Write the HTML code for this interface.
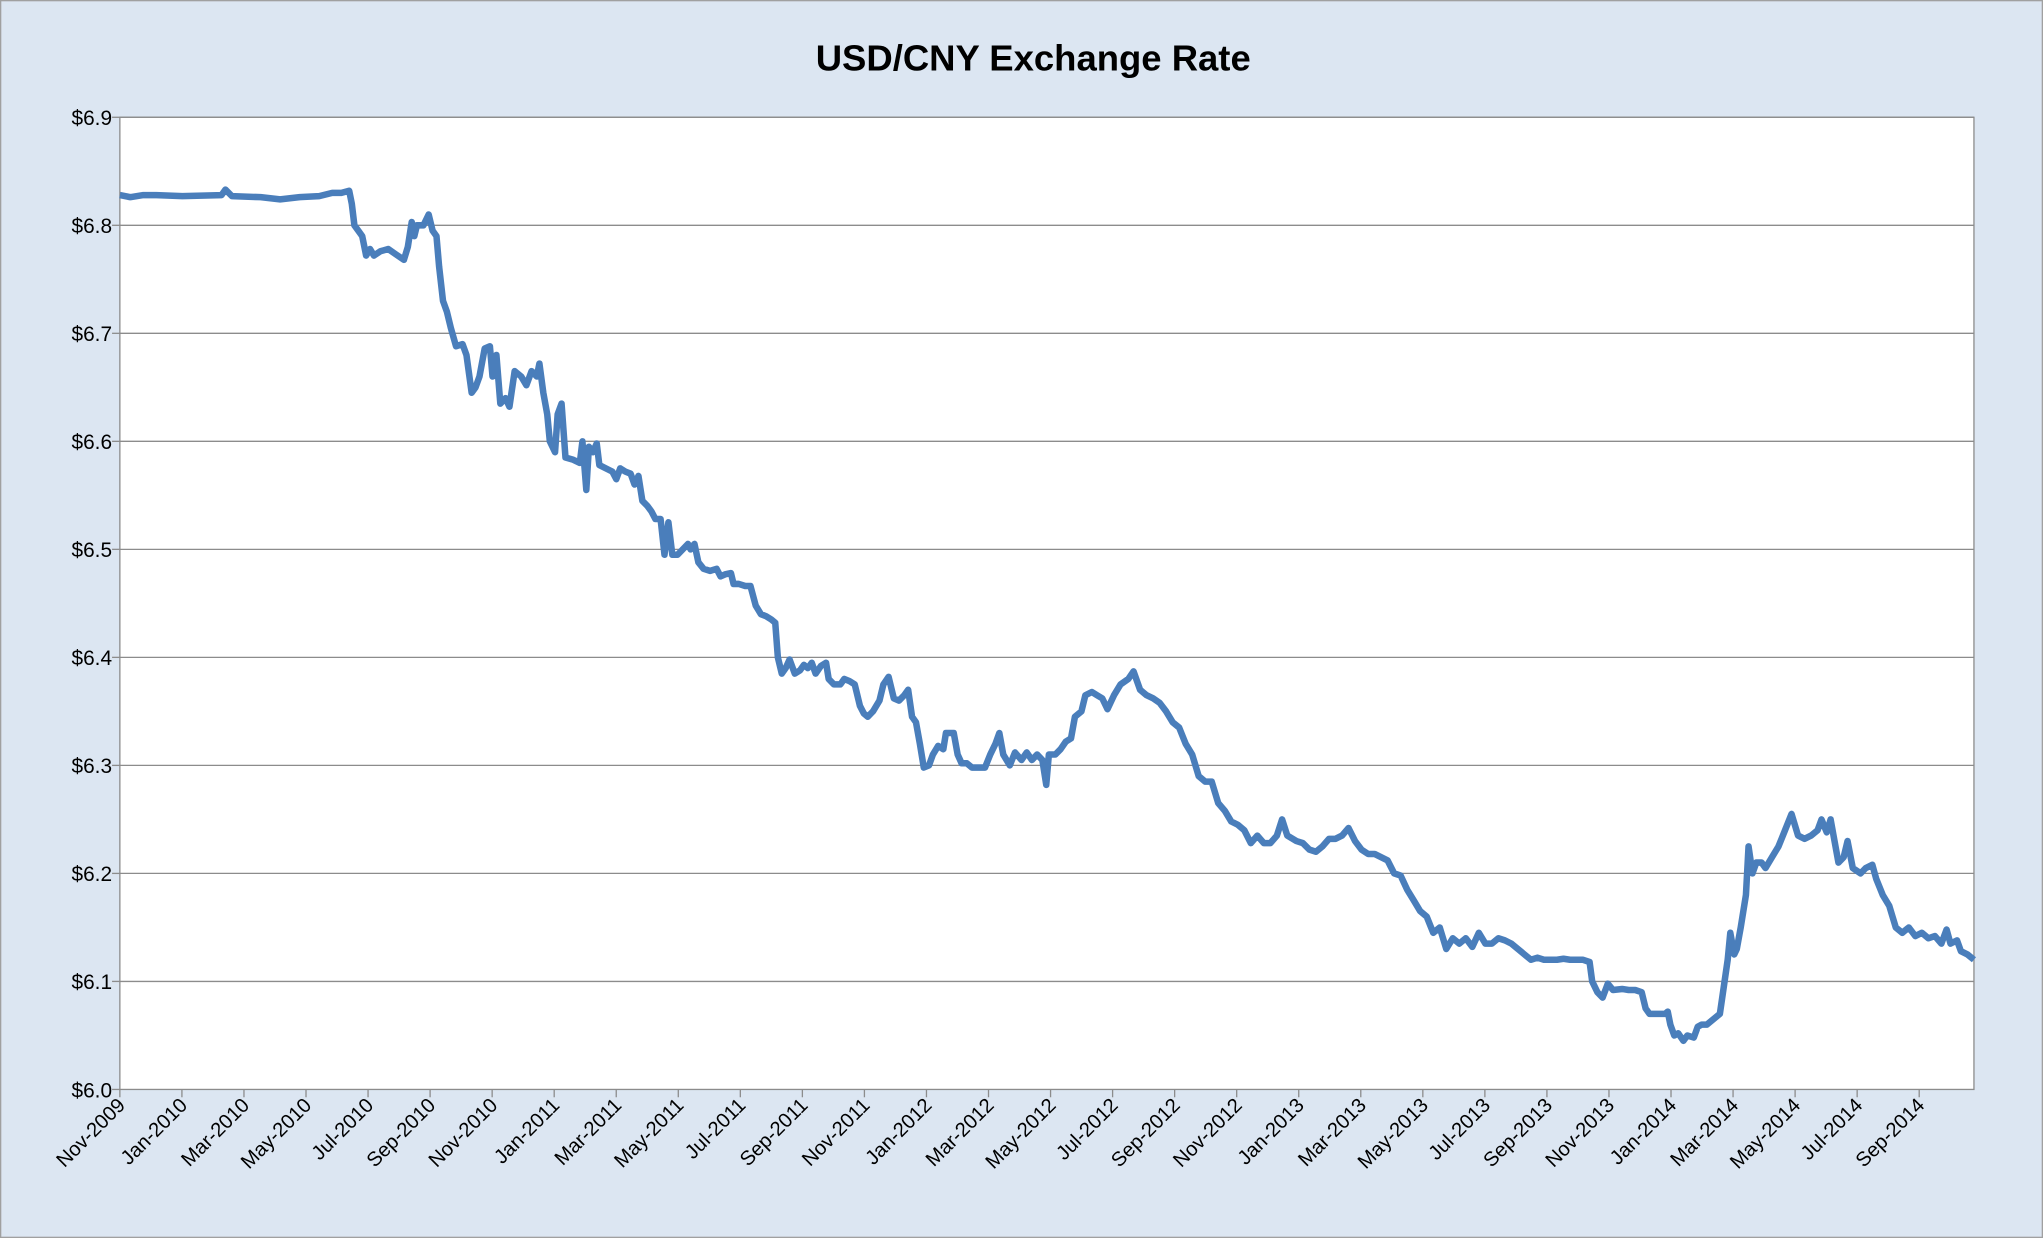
<!DOCTYPE html>
<html><head><meta charset="utf-8"><style>
html,body{margin:0;padding:0;background:#dce6f2;}
svg{display:block;}
text{font-family:"Liberation Sans",sans-serif;fill:#000;}
</style></head><body>
<svg id="s" width="2043" height="1238" viewBox="0 0 1568 950" preserveAspectRatio="none" xmlns="http://www.w3.org/2000/svg">
<rect x="0.5" y="0.5" width="1567" height="949" fill="#dce6f2" stroke="#a0a0a0"/>
<text x="793" y="54" text-anchor="middle" font-size="28" font-weight="bold">USD/CNY Exchange Rate</text>
<rect x="92" y="90" width="1423" height="746" fill="#fff" stroke="#8c8c8c"/>
<g id="grid"></g>
<path id="line" fill="none" stroke="#4a7ebb" stroke-width="5" stroke-linejoin="round"/>
</svg>
<script>
var L=92,R=1515,T=90,B=836;
function Y(v){return B-(v-6.0)*(B-T)/0.9;}
var g=document.getElementById('grid'),h='';
for(var i=0;i<=9;i++){var y=Y(6+i*0.1);
 if(i>0)h+='<line x1="'+L+'" x2="'+R+'" y1="'+y+'" y2="'+y+'" stroke="#8c8c8c" stroke-width="1"/>';
 h+='<line x1="'+(L-6)+'" x2="'+L+'" y1="'+y+'" y2="'+y+'" stroke="#8c8c8c"/>';
 h+='<text x="'+(L-6)+'" y="'+(y+6)+'" text-anchor="end" font-size="16">$'+(6+i*0.1).toFixed(1)+'</text>';}
var mo=['Nov','Jan','Mar','May','Jul','Sep'];
for(var k=0;k<30;k++){var x=L+k*47.62;var yr=2009+Math.floor((k+5)/6);
 var lab=mo[k%6]+'-'+yr;
 h+='<line x1="'+x+'" x2="'+x+'" y1="'+B+'" y2="'+(B+6)+'" stroke="#8c8c8c"/>';
 h+='<text transform="translate('+(x+5)+','+(B+13)+') rotate(-45)" text-anchor="end" font-size="15.5">'+lab+'</text>';}
g.innerHTML=h;
var d=[92,6.828,100,6.826,110,6.828,120,6.828,140,6.827,170,6.828,173,6.833,178,6.827,200,6.826,215,6.824,230,6.826,245,6.827,255,6.830,262,6.830,268,6.832,270,6.820,272,6.800,275,6.795,278,6.790,281,6.772,284,6.778,287,6.772,292,6.776,298,6.778,304,6.773,310,6.768,313,6.780,316,6.803,318,6.790,320,6.800,325,6.800,329,6.810,332,6.795,335,6.790,337,6.762,340,6.730,343,6.720,346,6.705,350,6.688,355,6.690,358,6.680,362,6.645,365,6.650,368,6.660,372,6.686,376,6.688,378,6.660,381,6.680,384,6.635,388,6.640,391,6.632,395,6.665,400,6.660,404,6.652,408,6.665,412,6.660,414,6.672,417,6.645,420,6.625,422,6.600,426,6.590,428,6.625,431,6.635,434,6.585,440,6.583,445,6.580,447,6.600,450,6.555,452,6.595,455,6.590,458,6.598,460,6.578,465,6.575,470,6.572,473,6.565,476,6.575,480,6.572,484,6.570,487,6.560,490,6.568,493,6.545,497,6.540,500,6.535,503,6.528,507,6.528,510,6.495,513,6.525,516,6.495,520,6.495,524,6.500,528,6.505,530,6.500,533,6.505,536,6.488,540,6.482,545,6.480,550,6.482,553,6.475,557,6.477,561,6.478,563,6.468,567,6.468,572,6.466,576,6.466,580,6.448,584,6.440,588,6.438,592,6.435,595,6.432,597,6.400,600,6.385,603,6.390,606,6.398,610,6.385,614,6.388,617,6.393,620,6.390,623,6.395,626,6.385,630,6.392,634,6.395,636,6.380,640,6.375,645,6.375,648,6.380,652,6.378,656,6.375,660,6.355,663,6.348,666,6.345,670,6.350,675,6.360,678,6.375,682,6.382,686,6.362,690,6.360,694,6.365,697,6.370,700,6.345,703,6.340,706,6.320,709,6.298,713,6.300,716,6.310,720,6.318,724,6.315,726,6.330,732,6.330,735,6.310,738,6.302,742,6.302,746,6.298,752,6.298,756,6.298,760,6.310,764,6.320,767,6.330,770,6.310,775,6.300,779,6.312,784,6.305,788,6.312,792,6.305,796,6.310,800,6.305,803,6.282,805,6.310,810,6.310,814,6.315,818,6.322,822,6.325,825,6.345,830,6.350,833,6.365,838,6.368,842,6.365,846,6.362,850,6.352,855,6.365,860,6.375,866,6.380,870,6.387,875,6.370,880,6.365,885,6.362,890,6.358,895,6.350,900,6.340,905,6.335,910,6.320,915,6.310,920,6.290,925,6.285,930,6.285,935,6.265,940,6.258,945,6.248,950,6.245,955,6.240,960,6.228,965,6.235,970,6.228,975,6.228,980,6.235,984,6.250,988,6.235,995,6.230,1000,6.228,1005,6.222,1010,6.220,1015,6.225,1020,6.232,1025,6.232,1030,6.235,1035,6.242,1040,6.230,1045,6.222,1050,6.218,1055,6.218,1060,6.215,1065,6.212,1070,6.200,1075,6.198,1080,6.185,1085,6.175,1090,6.165,1095,6.160,1100,6.145,1105,6.150,1110,6.130,1115,6.140,1120,6.135,1125,6.140,1130,6.132,1135,6.145,1140,6.135,1145,6.135,1150,6.140,1155,6.138,1160,6.135,1165,6.130,1170,6.125,1175,6.120,1180,6.122,1185,6.120,1190,6.120,1195,6.120,1200,6.121,1205,6.120,1210,6.120,1215,6.120,1220,6.118,1222,6.100,1226,6.090,1230,6.085,1234,6.098,1238,6.092,1245,6.093,1250,6.092,1255,6.092,1260,6.090,1263,6.075,1266,6.070,1272,6.070,1278,6.070,1280,6.072,1282,6.060,1285,6.050,1288,6.052,1292,6.045,1295,6.050,1300,6.048,1303,6.058,1306,6.060,1310,6.060,1315,6.065,1320,6.070,1323,6.095,1326,6.120,1328,6.145,1331,6.125,1333,6.130,1336,6.150,1340,6.180,1342,6.225,1345,6.200,1348,6.210,1352,6.210,1355,6.205,1360,6.215,1365,6.225,1370,6.240,1375,6.255,1380,6.235,1385,6.232,1390,6.235,1395,6.240,1398,6.250,1402,6.238,1405,6.250,1408,6.230,1411,6.210,1415,6.215,1418,6.230,1422,6.205,1428,6.200,1432,6.205,1437,6.208,1440,6.195,1445,6.180,1450,6.170,1455,6.150,1460,6.145,1465,6.150,1470,6.142,1475,6.145,1480,6.140,1485,6.142,1490,6.135,1494,6.148,1497,6.135,1502,6.138,1505,6.128,1510,6.125,1515,6.120];
var p='';for(var j=0;j<d.length;j+=2){p+=(j?'L':'M')+d[j]+','+Y(d[j+1]).toFixed(1);}
document.getElementById('line').setAttribute('d',p);
</script>
</body></html>
